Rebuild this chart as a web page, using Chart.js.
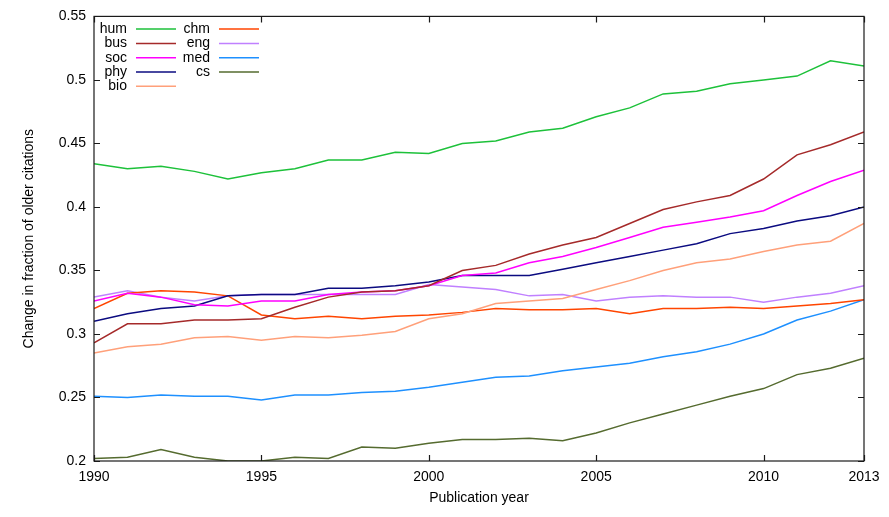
<!DOCTYPE html>
<html>
<head>
<meta charset="utf-8">
<script src="https://cdn.jsdelivr.net/npm/chart.js@4/dist/chart.umd.min.js"></script>
<style>
  html, body { margin: 0; padding: 0; background: #fff; }
  canvas { display: block; }
</style>
</head>
<body>
<canvas id="c" width="889" height="517"></canvas>
<script>
// ---- data ----
const years = [1990,1991,1992,1993,1994,1995,1996,1997,1998,1999,2000,2001,2002,2003,2004,2005,2006,2007,2008,2009,2010,2011,2012,2013];
const xTickYears = [1990, 1995, 2000, 2005, 2010, 2013];
const yTickValues = [0.2, 0.25, 0.3, 0.35, 0.4, 0.45, 0.5, 0.55];

const hum = [0.434,0.430,0.432,0.428,0.422,0.427,0.430,0.437,0.437,0.443,0.442,0.450,0.452,0.459,0.462,0.471,0.478,0.489,0.491,0.497,0.500,0.503,0.515,0.511];
const bus = [0.293,0.308,0.308,0.311,0.311,0.312,0.321,0.329,0.333,0.334,0.338,0.350,0.354,0.363,0.370,0.376,0.387,0.398,0.404,0.409,0.422,0.441,0.449,0.459];
const soc = [0.326,0.332,0.329,0.323,0.322,0.326,0.326,0.331,0.333,0.334,0.338,0.346,0.348,0.356,0.361,0.368,0.376,0.384,0.388,0.392,0.397,0.409,0.420,0.429];
const phy = [0.310,0.316,0.320,0.322,0.330,0.331,0.331,0.336,0.336,0.338,0.341,0.346,0.346,0.346,0.351,0.356,0.361,0.366,0.371,0.379,0.383,0.389,0.393,0.400];
const bio = [0.285,0.290,0.292,0.297,0.298,0.295,0.298,0.297,0.299,0.302,0.312,0.316,0.324,0.326,0.328,0.335,0.342,0.350,0.356,0.359,0.365,0.370,0.373,0.387];
const chm = [0.320,0.332,0.334,0.333,0.330,0.315,0.312,0.314,0.312,0.314,0.315,0.317,0.320,0.319,0.319,0.320,0.316,0.320,0.320,0.321,0.320,0.322,0.324,0.327];
const eng = [0.329,0.334,0.329,0.326,0.330,0.331,0.331,0.331,0.331,0.331,0.339,0.337,0.335,0.330,0.331,0.326,0.329,0.330,0.329,0.329,0.325,0.329,0.332,0.338];
const med = [0.251,0.250,0.252,0.251,0.251,0.248,0.252,0.252,0.254,0.255,0.258,0.262,0.266,0.267,0.271,0.274,0.277,0.282,0.286,0.292,0.300,0.311,0.318,0.327];
const cs  = [0.202,0.203,0.209,0.203,0.200,0.200,0.203,0.202,0.211,0.210,0.214,0.217,0.217,0.218,0.216,0.222,0.230,0.237,0.244,0.251,0.257,0.268,0.273,0.281];

const seriesNames = ['hum','bus','soc','phy','bio','chm','eng','med','cs'];
const seriesValues = [hum, bus, soc, phy, bio, chm, eng, med, cs];
const seriesColors = ['#1dc13a','#a52a2a','#ff00ff','#0b0b80','#ffa07a','#ff4500','#c080ff','#1e90ff','#556b2f'];

const FONT = '"Liberation Sans", Arial, Helvetica, sans-serif';

const datasets = seriesNames.map((name, i) => ({
  label: name,
  data: years.map((y, j) => ({ x: y, y: seriesValues[i][j] })),
  borderColor: seriesColors[i],
  backgroundColor: seriesColors[i],
  borderWidth: 1.5,
  pointRadius: 0,
  tension: 0,
  fill: false
}));

// frame with inward mirrored ticks (gnuplot style)
const framePlugin = {
  id: 'frame',
  afterDatasetsDraw(chart) {
    const { ctx, chartArea: a, scales } = chart;
    const tl = 6;
    ctx.save();
    ctx.strokeStyle = '#1a1a1a';
    ctx.lineWidth = 1.2;
    ctx.beginPath();
    yTickValues.forEach(v => {
      const py = Math.round(scales.y.getPixelForValue(v)) + 0.5;
      ctx.moveTo(a.left, py); ctx.lineTo(a.left + tl, py);
      ctx.moveTo(a.right, py); ctx.lineTo(a.right - tl, py);
    });
    xTickYears.forEach(v => {
      const px = Math.round(scales.x.getPixelForValue(v)) + 0.5;
      ctx.moveTo(px, a.bottom); ctx.lineTo(px, a.bottom - tl);
      ctx.moveTo(px, a.top); ctx.lineTo(px, a.top + tl);
    });
    ctx.stroke();
    ctx.strokeRect(a.left, a.top, a.right - a.left, a.bottom - a.top);
    ctx.restore();
  }
};

// gnuplot-like key: text right-aligned, then line sample; two columns
const keyPlugin = {
  id: 'key',
  afterDatasetsDraw(chart) {
    const { ctx, chartArea: a } = chart;
    const rows = 5, rowH = 14.3;
    const colTextRight = [33, 116];
    const colLineStart = [42, 125];
    const lineLen = 40;
    ctx.save();
    ctx.font = '14px ' + FONT;
    ctx.textAlign = 'right';
    ctx.textBaseline = 'middle';
    chart.data.datasets.forEach((ds, i) => {
      const col = Math.floor(i / rows), row = i % rows;
      const y = a.top + 12.7 + row * rowH;
      ctx.fillStyle = '#000';
      ctx.fillText(ds.label, a.left + colTextRight[col], y);
      ctx.strokeStyle = ds.borderColor;
      ctx.lineWidth = 1.5;
      ctx.beginPath();
      ctx.moveTo(a.left + colLineStart[col], y);
      ctx.lineTo(a.left + colLineStart[col] + lineLen, y);
      ctx.stroke();
    });
    ctx.restore();
  }
};

new Chart(document.getElementById('c'), {
  type: 'line',
  data: { datasets },
  plugins: [framePlugin, keyPlugin],
  options: {
    responsive: false,
    animation: false,
    layout: { padding: { top: 15, right: 25, left: 0, bottom: 0 } },
    plugins: { legend: { display: false }, tooltip: { enabled: false } },
    scales: {
      x: {
        type: 'linear',
        min: 1990, max: 2013,
        grid: { display: false, drawTicks: false },
        border: { display: false },
        afterBuildTicks(s) { s.ticks = xTickYears.map(v => ({ value: v })); },
        afterFit(s) { s.height = 56; },
        ticks: {
          autoSkip: false, maxRotation: 0, padding: 8,
          color: '#000', font: { family: FONT, size: 14 },
          callback: v => String(v)
        },
        title: {
          display: true, text: 'Publication year', color: '#000',
          font: { family: FONT, size: 14 }, padding: { top: 0, bottom: 10 }
        }
      },
      y: {
        min: 0.2, max: 0.55,
        grid: { display: false, drawTicks: false },
        border: { display: false },
        afterBuildTicks(s) { s.ticks = yTickValues.map(v => ({ value: v })); },
        afterFit(s) { s.width = 94; },
        ticks: {
          padding: 8, color: '#000', font: { family: FONT, size: 14 },
          callback: v => String(Number(v.toFixed(2)))
        },
        title: {
          display: true, text: 'Change in fraction of older citations', color: '#000',
          font: { family: FONT, size: 14 }, padding: { top: 21, bottom: 0 }
        }
      }
    }
  }
});
</script>
</body>
</html>
